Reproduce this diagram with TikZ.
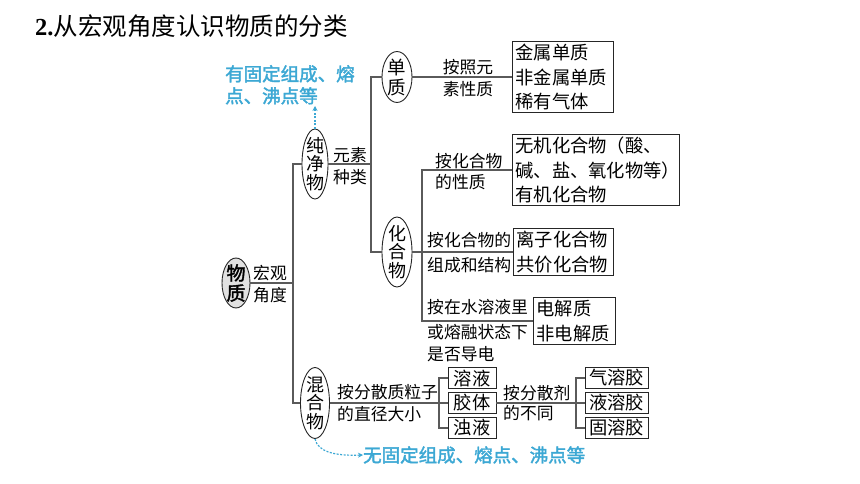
\documentclass[tikz,border=0pt]{standalone}
\usepackage{fontspec}
\setmainfont{Noto Sans CJK SC}[AutoFakeBold=2]
\newfontfamily\numfont{Liberation Serif}
\usetikzlibrary{shapes.geometric,arrows.meta}
\definecolor{ln}{RGB}{90,90,90}
\definecolor{bl}{RGB}{60,168,212}
\definecolor{elfill}{RGB}{225,225,225}
\begin{document}
\begin{tikzpicture}[x=1pt,y=-1pt,
  conn/.style={draw=ln,line width=1.1pt},
  oval/.style={draw=black!85,ellipse,line width=0.9pt,inner sep=0pt},
  vtext/.style={font=\fontsize{18}{18.5}\selectfont,align=center,inner sep=0pt},
  vtextb/.style={font=\fontsize{18.5}{20}\selectfont,align=center,inner sep=0pt},
  lbl/.style={font=\fontsize{16.8}{20}\selectfont,inner sep=0pt},
  boxt/.style={draw=black!85,line width=0.9pt,font=\fontsize{18.3}{24.5}\selectfont,align=left,inner xsep=3pt,inner ysep=2.5pt,anchor=west},
  sbox/.style={draw=black!85,line width=0.9pt,font=\fontsize{18.3}{20}\selectfont,inner sep=0pt,minimum height=21pt},
  note/.style={font=\fontsize{18.5}{22}\selectfont\bfseries,text=bl,inner sep=0pt,align=left},
  noteline/.style={draw=bl,line width=1.2pt,dash pattern=on 2pt off 1.5pt,-{Stealth[length=5pt,width=5pt]}}
]
\useasboundingbox[fill=white] (0,0) rectangle (860,484);

\node[anchor=west,inner sep=0pt,font=\fontsize{24.5}{26}\selectfont] (title) at (35,26) {{\numfont\bfseries 2.}从宏观角度认识物质的分类};

% ellipses
\node[oval,fill=elfill,minimum width=28pt,minimum height=50pt,label={[vtextb,font=\fontsize{19}{20}\selectfont\bfseries]center:{物\\质}}] (wz) at (236,283) {};
\node[oval,minimum width=26pt,minimum height=70pt,label={[vtext]center:{纯\\净\\物}}] (cjw) at (315,164) {};
\node[oval,minimum width=30pt,minimum height=51pt,label={[vtextb]center:{单\\质}}] (dz) at (397,77) {};
\node[oval,minimum width=30pt,minimum height=70pt,label={[vtext]center:{化\\合\\物}}] (hhw) at (397,252) {};
\node[oval,minimum width=29pt,minimum height=71pt,label={[vtext]center:{混\\合\\物}}] (hhm) at (315,403) {};

% boxes
\node[boxt,text width=95pt] (b1) at (512,77) {金属单质\\非金属单质\\稀有气体};
\node[boxt,text width=161pt] (b2) at (512,170) {无机化合物（酸、\\碱、盐、氧化物等）\\有机化合物};
\node[boxt,text width=94pt] (b3) at (513,252) {离子化合物\\共价化合物};
\node[boxt,text width=76pt] (b4) at (533,321) {电解质\\非电解质};

\node[sbox,minimum width=48pt] (ry) at (472,378) {溶液};
\node[sbox,minimum width=48pt] (jt) at (472,403) {胶体};
\node[sbox,minimum width=48pt] (zy) at (472,428) {浊液};
\node[sbox,minimum width=63pt] (qrj) at (616.5,378) {气溶胶};
\node[sbox,minimum width=63pt] (yrj) at (616.5,403) {液溶胶};
\node[sbox,minimum width=63pt] (grj) at (616.5,428) {固溶胶};

% labels
\node[lbl] (hg1) at (270,273) {宏观};
\node[lbl] (hg2) at (270,295) {角度};
\node[lbl] (ys1) at (350,155) {元素};
\node[lbl] (ys2) at (350,177) {种类};
\node[lbl] (az1) at (468,67) {按照元};
\node[lbl] (az2) at (468,89) {素性质};
\node[lbl,anchor=west] (ah1) at (435,161) {按化合物};
\node[lbl,anchor=west] (ah2) at (435,182) {的性质};
\node[lbl,anchor=west] (ac1) at (427,240) {按化合物的};
\node[lbl,anchor=west] (ac2) at (427,265) {组成和结构};
\node[lbl,anchor=west] (as1) at (427,307) {按在水溶液里};
\node[lbl,anchor=west] (as2) at (427,332) {或熔融状态下};
\node[lbl,anchor=west] (as3) at (427,354) {是否导电};
\node[lbl,anchor=west] (af1) at (337,392) {按分散质粒子};
\node[lbl,anchor=west] (af2) at (337,414) {的直径大小};
\node[lbl,anchor=west] (aj1) at (503,393) {按分散剂};
\node[lbl,anchor=west] (aj2) at (503,413) {的不同};

% junctions
\coordinate (j1) at (293,283);
\coordinate (j2) at (371,164);
\coordinate (j3) at (422,252);
\coordinate (j4) at (439,403);
\coordinate (j5) at (576,403);

\draw[conn] (wz.east) -- (j1);
\draw[conn] (cjw.west) -| (j1) |- (hhm.west);
\draw[conn] (cjw.east) -- (j2);
\draw[conn] (dz.west) -| (j2) |- (hhw.west);
\draw[conn] (dz.east) -- (b1.west);
\draw[conn] (hhw.east) -- (b3.west);
\draw[conn] (b2.west) -| (j3) |- (b4.west);
\draw[conn] (hhm.east) -- (jt.west);
\draw[conn] (ry.west) -| (j4) |- (zy.west);
\draw[conn] (jt.east) -- (yrj.west);
\draw[conn] (qrj.west) -| (j5) |- (grj.west);

% blue notes
\node[note,anchor=north west] (n1) at (225,65) {有固定组成、熔\\点、沸点等};
\coordinate (n1a) at (315,106);
\draw[noteline] (cjw.north) -- (n1a);
\node[note,anchor=west] (n2) at (363,455) {无固定组成、熔点、沸点等};
\draw[noteline] (hhm.south) .. controls (318,452) and (335,456) .. (n2.west);
\end{tikzpicture}
\end{document}
